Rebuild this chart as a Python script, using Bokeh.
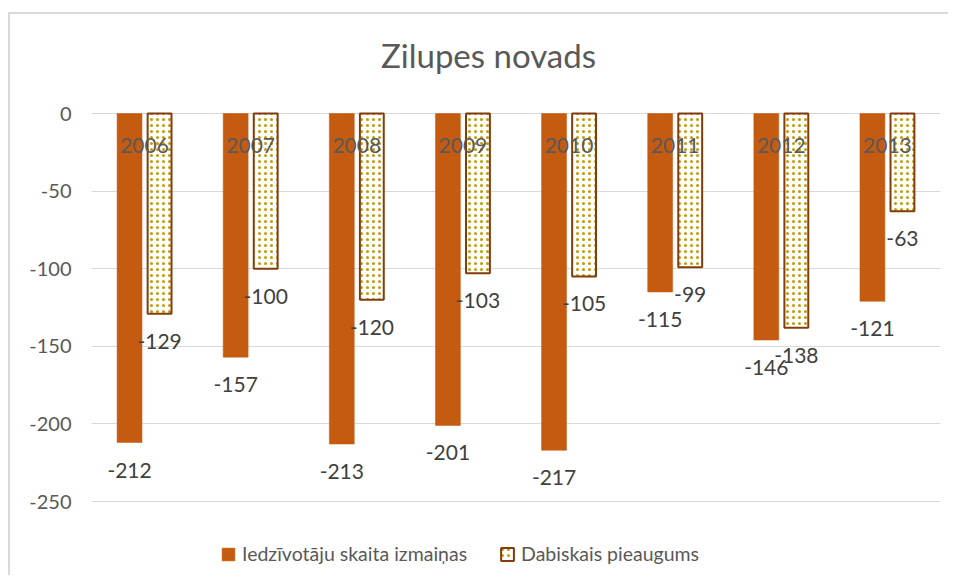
from bokeh.plotting import figure
from bokeh.models import (ColumnDataSource, Range1d, FactorRange, LabelSet, Label,
                          Legend, LegendItem, FixedTicker)
from bokeh.transform import dodge
from bokeh.embed import file_html
from bokeh.resources import INLINE
from bokeh.core.properties import value

# ---- data ----
years = ["2006", "2007", "2008", "2009", "2010", "2011", "2012", "2013"]
population_change = [-212, -157, -213, -201, -217, -115, -146, -121]
natural_growth = [-129, -100, -120, -103, -105, -99, -138, -63]
y_ticks = [0, -50, -100, -150, -200, -250]
series_names = ["Iedzīvotāju skaita izmaiņas", "Dabiskais pieaugums"]
title_text = "Zilupes novads"

# ---- layout (pixels inside the figure canvas) ----
W, H = 940, 563
FRAME_L, FRAME_R = 81, 930          # frame left / right
FRAME_T, FRAME_B = 6, 561           # frame top / bottom (extended so title & legend fit)
ZERO_PX, MIN_PX = 99, 487           # where 0 and -250 sit
k = (MIN_PX - ZERO_PX) / (max(y_ticks) - min(y_ticks))   # px per unit
y_end = max(y_ticks) + (ZERO_PX - FRAME_T) / k
y_start = min(y_ticks) - (FRAME_B - MIN_PX) / k

FONT = "Lato"
src = ColumnDataSource(dict(
    year=years,
    change=population_change,
    natural=natural_growth,
    change_lbl=[str(v) for v in population_change],
    natural_lbl=[str(v) for v in natural_growth],
    zero=[0] * len(years),
))

p = figure(width=W, height=H,
           x_range=FactorRange(*years, range_padding=0),
           y_range=Range1d(y_start, y_end),
           output_backend="svg", toolbar_location=None,
           min_border_left=FRAME_L, min_border_right=W - FRAME_R,
           min_border_top=FRAME_T, min_border_bottom=H - FRAME_B)
p.margin = (12, 0, 0, 8)
p.styles = {"border-top": "2px solid #D9D9D9", "border-left": "2px solid #D9D9D9"}
p.outline_line_color = None
p.background_fill_color = "white"
p.border_fill_color = "white"

# axes
p.xaxis.visible = False
p.xgrid.visible = False
p.yaxis.ticker = FixedTicker(ticks=y_ticks)
p.yaxis.major_label_overrides = {t: str(t) for t in y_ticks}
p.yaxis.axis_line_color = None
p.yaxis.major_tick_line_color = None
p.yaxis.minor_tick_line_color = None
p.yaxis.major_label_text_font_size = "20px"
p.yaxis.major_label_text_font = FONT
p.yaxis.major_label_text_color = "#595959"
p.yaxis.major_label_standoff = 14
p.ygrid.grid_line_color = "#D9D9D9"
p.ygrid.grid_line_width = 1

off = 0.1415
bw = 0.235
r1 = p.vbar(x=dodge("year", -off, range=p.x_range), top="change", bottom=0,
            width=bw, source=src, fill_color="#C55A11", line_color="#C55A11",
            line_width=0.5)
r2 = p.vbar(x=dodge("year", off, range=p.x_range), top="natural", bottom=0,
            width=bw - 0.01, source=src, fill_color="white",
            hatch_pattern="dot", hatch_color="#C39A00", hatch_scale=6,
            hatch_weight=1.6, line_color="#843C0C", line_width=2)

# labels
common = dict(source=src, text_align="center", text_baseline="alphabetic",
              text_font_size="21px", text_font=value(FONT))
p.add_layout(LabelSet(x="year", y="zero", text="year", y_offset=-39,
                      text_color="#595959", **common))
p.add_layout(LabelSet(x=dodge("year", -off, range=p.x_range), y="change",
                      text="change_lbl", y_offset=-35, text_color="#404040", **common))
p.add_layout(LabelSet(x=dodge("year", off, range=p.x_range), y="natural",
                      text="natural_lbl", y_offset=-35, text_color="#404040", **common))

# title (screen units from the frame's bottom-left)
p.add_layout(Label(x=397, y=FRAME_B - 40, x_units="screen", y_units="screen",
                   text=title_text, text_align="center", text_baseline="alphabetic",
                   text_font_size="33px", text_font=FONT, text_color="#595959"))

# legend
legend = Legend(items=[LegendItem(label=series_names[0], renderers=[r1]),
                       LegendItem(label=series_names[1], renderers=[r2])],
                orientation="horizontal", location=(129, 10),
                padding=0, margin=0, spacing=32, label_standoff=6,
                glyph_width=16, glyph_height=16,
                label_text_font_size="19.5px", label_text_font=FONT,
                label_text_color="#595959",
                border_line_color=None, background_fill_alpha=0)
p.add_layout(legend)

open("out.html", "w").write(file_html(p, INLINE))
